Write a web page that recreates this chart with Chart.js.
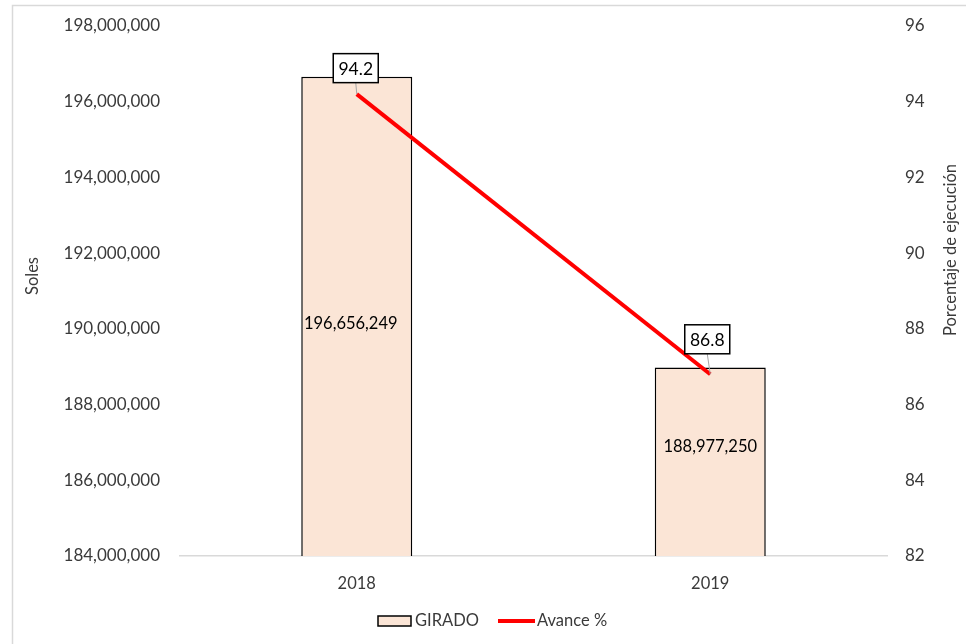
<!DOCTYPE html>
<html lang="es">
<head>
  <meta charset="UTF-8" />
  <title>Girado y avance</title>
  <script src="https://cdn.jsdelivr.net/npm/chart.js"></script>
  <style>
    html, body { margin: 0; padding: 0; background: #fff; }
    #wrap { width: 966px; height: 644px; }
  </style>
</head>
<body>
  <div id="wrap"><canvas id="chart" width="966" height="644"></canvas></div>

  <script>
    // Data
    const years = ['2018', '2019'];
    const girado = [196656249, 188977250];
    const avance = [94.2, 86.8];

    // axis ranges
    const solesMin = 184000000, solesMax = 198000000, solesStep = 2000000;
    const pctMin = 82, pctMax = 96, pctStep = 2;

    const FONT = 'Lato, "Open Sans", sans-serif';
    const TEXT = '#3a3a3a';
    const fmt = v => v.toLocaleString('en-US');

    // fixed widths for the side axes; tick padding shouldn't push the plot down
    const sideFit = w => s => { s.width = w; s.paddingTop = 0; s.paddingBottom = 0; };

    // frame, axis titles, legend and data labels
    const decor = {
      id: 'decor',
      beforeDraw(chart) {
        const ctx = chart.ctx;
        ctx.save();
        ctx.strokeStyle = '#d9d9d9';
        ctx.lineWidth = 1.5;
        ctx.beginPath();
        ctx.moveTo(12.5, 644);
        ctx.lineTo(12.5, 5.5);
        ctx.lineTo(966, 5.5);
        ctx.stroke();
        ctx.restore();
      },
      afterDatasetsDraw(chart) {
        const ctx = chart.ctx;
        const ys = chart.scales.y;
        ctx.save();
        ctx.textAlign = 'center';
        ctx.textBaseline = 'middle';

        // bar values, centred in each bar
        ctx.font = '16.5px ' + FONT;
        ctx.fillStyle = '#000';
        const barOff = [[-6, 7], [0, -15]];
        chart.getDatasetMeta(0).data.forEach((el, i) => {
          const top = ys.getPixelForValue(girado[i]);
          const y = (top + ys.bottom) / 2 + barOff[i][1];
          ctx.fillText(fmt(girado[i]), el.x + barOff[i][0], y);
        });

        // percent callouts
        const boxOff = [[-1, -26], [-3, -35]];
        chart.getDatasetMeta(1).data.forEach((el, i) => {
          const txt = avance[i].toFixed(1);
          const cx = el.x + boxOff[i][0], cy = el.y + boxOff[i][1];
          const w = 45, h = 29;
          ctx.strokeStyle = '#a6a6a6';
          ctx.lineWidth = 1;
          ctx.beginPath();
          ctx.moveTo(cx, cy + h / 2);
          ctx.lineTo(el.x, el.y);
          ctx.stroke();
          ctx.fillStyle = '#fff';
          ctx.fillRect(cx - w / 2, cy - h / 2, w, h);
          ctx.strokeStyle = '#000';
          ctx.lineWidth = 1.5;
          ctx.strokeRect(cx - w / 2, cy - h / 2, w, h);
          ctx.fillStyle = '#000';
          ctx.font = '17.5px ' + FONT;
          ctx.fillText(txt, cx, cy + 1);
        });

        // axis titles
        ctx.fillStyle = TEXT;
        ctx.font = '16.5px ' + FONT;
        ctx.save();
        ctx.translate(33, 276);
        ctx.rotate(-Math.PI / 2);
        ctx.fillText('Soles', 0, 0);
        ctx.restore();
        ctx.save();
        ctx.translate(951, 250);
        ctx.rotate(-Math.PI / 2);
        ctx.fillText('Porcentaje de ejecución', 0, 0);
        ctx.restore();

        // legend
        ctx.font = '16.5px ' + FONT;
        ctx.textAlign = 'left';
        const ly = 621;
        ctx.fillStyle = '#fbe5d6';
        ctx.fillRect(378, ly - 5, 33, 10);
        ctx.strokeStyle = '#000';
        ctx.lineWidth = 1.5;
        ctx.strokeRect(378, ly - 5, 33, 10);
        ctx.fillStyle = TEXT;
        ctx.fillText('GIRADO', 415, ly);
        ctx.strokeStyle = '#ff0000';
        ctx.lineWidth = 4;
        ctx.beginPath();
        ctx.moveTo(498, ly);
        ctx.lineTo(535, ly);
        ctx.stroke();
        ctx.fillText('Avance %', 537, ly);
        ctx.restore();
      }
    };

    new Chart(document.getElementById('chart'), {
      type: 'bar',
      data: {
        labels: years,
        datasets: [
          {
            type: 'bar',
            label: 'GIRADO',
            data: girado,
            yAxisID: 'y',
            backgroundColor: '#fbe5d6',
            borderColor: '#000',
            borderWidth: 1.5,
            barPercentage: 0.314,
            categoryPercentage: 1,
            order: 1
          },
          {
            type: 'line',
            label: 'Avance %',
            data: avance,
            yAxisID: 'y1',
            borderColor: '#ff0000',
            borderWidth: 4,
            pointRadius: 0,
            tension: 0,
            fill: false,
            order: 0
          }
        ]
      },
      options: {
        responsive: false,
        animation: false,
        layout: { padding: { top: 26, left: 0, right: 0, bottom: 0 } },
        plugins: { legend: { display: false }, tooltip: { enabled: false } },
        scales: {
          x: {
            grid: { display: false, drawTicks: false },
            border: { display: true, color: '#d9d9d9', width: 1.5 },
            ticks: { padding: 18, color: TEXT, font: { family: FONT, size: 16.5 } },
            afterFit: s => { s.height = 88; }
          },
          y: {
            position: 'left',
            min: solesMin,
            max: solesMax,
            grid: { display: false, drawTicks: false },
            border: { display: false },
            ticks: {
              stepSize: solesStep,
              padding: 20,
              color: TEXT,
              font: { family: FONT, size: 17 },
              callback: v => fmt(v)
            },
            afterFit: sideFit(180)
          },
          y1: {
            position: 'right',
            min: pctMin,
            max: pctMax,
            grid: { display: false, drawTicks: false },
            border: { display: false },
            ticks: {
              stepSize: pctStep,
              padding: 18,
              color: TEXT,
              font: { family: FONT, size: 17 }
            },
            afterFit: sideFit(79)
          }
        }
      },
      plugins: [decor]
    });
  </script>
</body>
</html>
